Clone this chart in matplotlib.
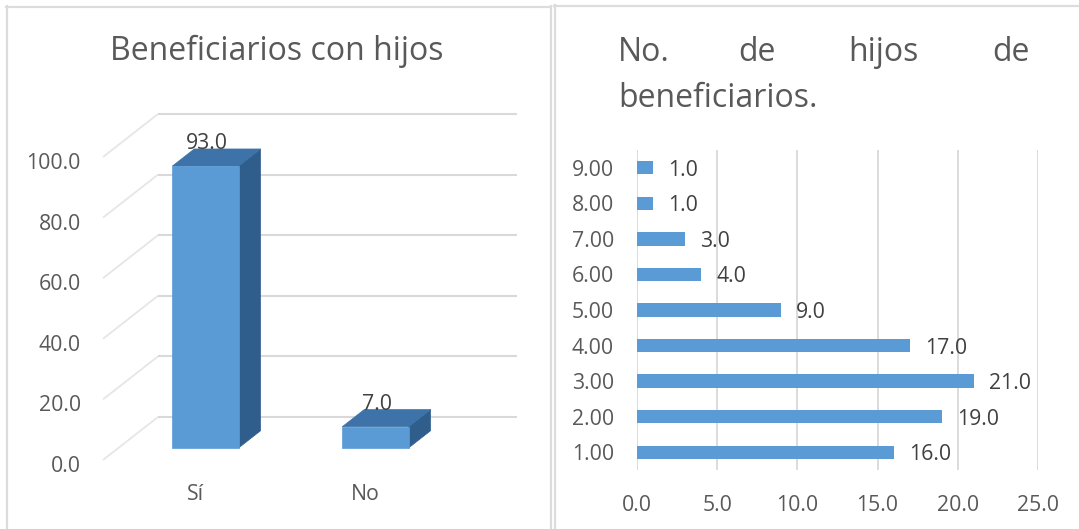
import matplotlib
matplotlib.use('Agg')
import matplotlib.pyplot as plt
from matplotlib.patches import Polygon
from matplotlib.lines import Line2D
import numpy as np

# ---------------- data ----------------
left_title = "Beneficiarios con hijos"
left_categories = ["Sí", "No"]
left_values = [93.0, 7.0]
left_ticks = [0, 20, 40, 60, 80, 100]

right_title_words = ["No.", "de", "hijos", "de"]
right_title_line2 = "beneficiarios."
right_categories = ["1.00", "2.00", "3.00", "4.00", "5.00", "6.00", "7.00", "8.00", "9.00"]
right_values = [16.0, 19.0, 21.0, 17.0, 9.0, 4.0, 3.0, 1.0, 1.0]
right_ticks = [0, 5, 10, 15, 20, 25]

# ---------------- style ----------------
plt.rcParams['font.family'] = ['Open Sans', 'DejaVu Sans']
TXT = '#595959'
LBL = '#404040'
GRID = '#D9D9D9'
BLUE = '#5B9BD5'
TOP = '#3D73A8'
SIDE = '#2F5E8C'
FS = 15.3
FS_T = 23

W, H = 1079, 529
fig = plt.figure(figsize=(W / 100, H / 100), dpi=100)
fig.patch.set_facecolor('white')


def fx(px):
    return px / W


def fy(py):
    return 1 - py / H


# panel borders
for (x0, y0, x1, y1) in [(6.5, 6, 6.5, H), (6, 6.5, 550.5, 6.5), (550.5, 6, 550.5, H),
                         (554.5, 5, 554.5, H), (554, 5.5, W, 5.5)]:
    fig.add_artist(Line2D([fx(x0), fx(x1)], [fy(y0), fy(y1)], transform=fig.transFigure,
                          color='#DCDCDC', lw=1.6))

# ---------------- left: pseudo-3D column chart ----------------
axL = fig.add_axes([fx(90), fy(475), fx(530) - fx(90), fy(95) - fy(475)])
axL.set_axis_off()
PX_CAT, PX_VAL = 170.0, 3.03
ox, oy = 190.0, 460.0
axL.set_xlim((90 - ox) / PX_CAT, (530 - ox) / PX_CAT)
axL.set_ylim((oy - 475) / PX_VAL, (oy - 95) / PX_VAL)
DX, DY = 55 / PX_CAT, 43 / PX_VAL


def proj(x, v, d):
    return (x + d * DX, v + d * DY)


x_wall = (103 - ox) / PX_CAT
x_back_end = (517 - ox) / PX_CAT - DX

for v in left_ticks:
    p0, p1, p2 = proj(x_wall, v, 0), proj(x_wall, v, 1), proj(x_back_end, v, 1)
    axL.plot([p0[0], p1[0]], [p0[1], p1[1]], color='#E6E6E6', lw=1.3, zorder=1,
             solid_capstyle='butt')
    axL.plot([p1[0], p2[0]], [p1[1], p2[1]], color=GRID, lw=1.5, zorder=1,
             solid_capstyle='butt')
    axL.text((81 - ox) / PX_CAT, v - 4 / PX_VAL, f"{v:.1f}", ha='right', va='center_baseline',
             fontsize=FS, color=TXT, clip_on=False)

d0, d1, hw = 0.28, 0.68, 0.195
for i, v in enumerate(left_values):
    side = [proj(i + hw, 0, d0), proj(i + hw, 0, d1), proj(i + hw, v, d1), proj(i + hw, v, d0)]
    top = [proj(i - hw, v, d0), proj(i + hw, v, d0), proj(i + hw, v, d1), proj(i - hw, v, d1)]
    front = [proj(i - hw, 0, d0), proj(i + hw, 0, d0), proj(i + hw, v, d0), proj(i - hw, v, d0)]
    axL.add_patch(Polygon(side, closed=True, facecolor=SIDE, edgecolor=SIDE, lw=0.5, zorder=3))
    axL.add_patch(Polygon(top, closed=True, facecolor=TOP, edgecolor=TOP, lw=0.5, zorder=3))
    axL.add_patch(Polygon(front, closed=True, facecolor=BLUE, edgecolor=BLUE, lw=0.5, zorder=4))
    axL.text(i + d0 * DX + 0.01, v + d1 * DY, f"{v:.1f}", ha='center', va='baseline',
             fontsize=FS, color=LBL, zorder=5)
    axL.text(i + 0.1 * DX, (oy - 494) / PX_VAL, left_categories[i], ha='center', va='center',
             fontsize=FS, color=TXT, clip_on=False)

fig.text(fx(277), fy(60), left_title, ha='center', va='baseline', fontsize=FS_T, color=TXT)

# ---------------- right: horizontal bar chart ----------------
axR = fig.add_axes([fx(637), fy(470), fx(1038) - fx(637), fy(150) - fy(470)])
ypos = np.arange(1, len(right_values) + 1)
axR.barh(ypos, right_values, height=0.375, color=BLUE, zorder=3)
axR.set_xlim(right_ticks[0], right_ticks[-1])
axR.set_ylim(0.5, len(right_values) + 0.5)
axR.set_xticks(right_ticks)
axR.set_xticklabels([f"{t:.1f}" for t in right_ticks])
axR.set_yticks(ypos)
axR.set_yticklabels(right_categories, va='center_baseline')
axR.grid(axis='x', color=GRID, lw=1.3, zorder=0)
axR.set_axisbelow(True)
for s in axR.spines.values():
    s.set_visible(False)
axR.tick_params(axis='x', length=0, pad=18, labelsize=FS, labelcolor=TXT)
axR.tick_params(axis='y', length=0, pad=16.5, labelsize=FS, labelcolor=TXT)
px_per_unit = (1038 - 637) / (right_ticks[-1] - right_ticks[0])
for y, v in zip(ypos, right_values):
    axR.text(v + 15 / px_per_unit, y, f"{v:.1f}", ha='left', va='center_baseline',
             fontsize=FS, color=LBL, clip_on=False)

# title (justified first line)
fig.text(fx(618), fy(61), right_title_words[0], ha='left', va='baseline', fontsize=FS_T, color=TXT)
fig.text(fx(738), fy(61), right_title_words[1], ha='left', va='baseline', fontsize=FS_T, color=TXT)
fig.text(fx(848), fy(61), right_title_words[2], ha='left', va='baseline', fontsize=FS_T, color=TXT)
fig.text(fx(1030), fy(61), right_title_words[3], ha='right', va='baseline', fontsize=FS_T, color=TXT)
fig.text(fx(618), fy(107), right_title_line2, ha='left', va='baseline', fontsize=FS_T, color=TXT)

fig.savefig('out.png', dpi=100, facecolor='white')
